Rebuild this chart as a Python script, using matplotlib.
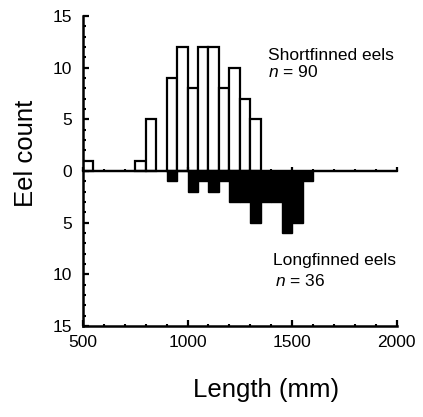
import numpy as np
import matplotlib
matplotlib.use("Agg")
import matplotlib.pyplot as plt
from matplotlib.ticker import MultipleLocator

plt.rcParams['font.family'] = ['Liberation Sans', 'DejaVu Sans']
plt.rcParams['mathtext.fontset'] = 'custom'
plt.rcParams['mathtext.it'] = 'Liberation Sans:italic'
plt.rcParams['mathtext.rm'] = 'Liberation Sans'

# === DATOS (clases de 50 mm) ===
length_bins = [500, 550, 600, 650, 700, 750, 800, 850, 900, 950, 1000,
               1050, 1100, 1150, 1200, 1250, 1300, 1350, 1400, 1450, 1500, 1550]
shortfinned = [1, 0, 0, 0, 0, 1, 5, 0, 9, 12, 8,
               12, 12, 8, 10, 7, 5, 0, 0, 0, 0, 0]
longfinned = [0, 0, 0, 0, 0, 0, 0, 0, 1, 0, 2,
              1, 2, 1, 3, 3, 5, 3, 3, 6, 5, 1]

ytick_vals = [-15, -10, -5, 0, 5, 10, 15]
ytick_labels = ["15", "10", "5", "0", "5", "10", "15"]
xtick_vals = [500, 1000, 1500, 2000]

x = np.array(length_bins)
s = np.array(shortfinned)
l = np.array(longfinned)

fig = plt.figure(figsize=(4.23, 4.17), dpi=100)
ax = fig.add_axes([0.196, 0.218, 0.742, 0.744])

# barras superiores (blancas) e inferiores (negras)
ax.bar(x[s > 0], s[s > 0], width=50, align='edge', color='white',
       edgecolor='black', linewidth=1.6, zorder=2)
ax.bar(x[l > 0], -l[l > 0], width=50, align='edge', color='black',
       edgecolor='black', linewidth=1.0, zorder=2)
ax.axhline(0, color='black', linewidth=1.6, zorder=3)

ax.set_xlim(500, 2000)
ax.set_ylim(-15, 15)
ax.set_xticks(xtick_vals)
ax.set_yticks(ytick_vals)
ax.set_yticklabels(ytick_labels)
ax.xaxis.set_minor_locator(MultipleLocator(100))
ax.yaxis.set_minor_locator(MultipleLocator(1))

for side in ['top', 'right']:
    ax.spines[side].set_visible(False)
for side in ['left', 'bottom']:
    ax.spines[side].set_linewidth(1.8)

ax.tick_params(which='major', direction='in', length=4, width=1.6, labelsize=12.5)
ax.tick_params(which='minor', direction='in', length=1.8, width=1.5)
ax.tick_params(axis='x', which='major', pad=6.5)
ax.tick_params(axis='y', which='major', pad=8)

# marcas sobre la linea del cero
sec = ax.secondary_xaxis(0.5)
sec.set_xticks(xtick_vals)
sec.xaxis.set_minor_locator(MultipleLocator(100))
sec.tick_params(which='major', direction='out', length=3, width=1.6,
                labeltop=False, labelbottom=False)
sec.tick_params(which='minor', direction='out', length=1.5, width=1.5)
sec.spines['top'].set_linewidth(1.6)
sec.set_zorder(5)

ax.text(1386, 10.7, "Shortfinned eels", fontsize=12.5, va='baseline')
ax.text(1386, 9.08, "$n$ = 90", fontsize=12.5, va='baseline')
ax.text(1407, -9.07, "Longfinned eels", fontsize=12.5, va='baseline')
ax.text(1418, -11.15, "$n$ = 36", fontsize=12.5, va='baseline')

ax.set_xlabel("Length (mm)", fontsize=18.5, x=0.585, labelpad=20)
ax.set_ylabel("Eel count", fontsize=18.5, y=0.556, labelpad=10.5)

fig.savefig("out.png", dpi=100)
